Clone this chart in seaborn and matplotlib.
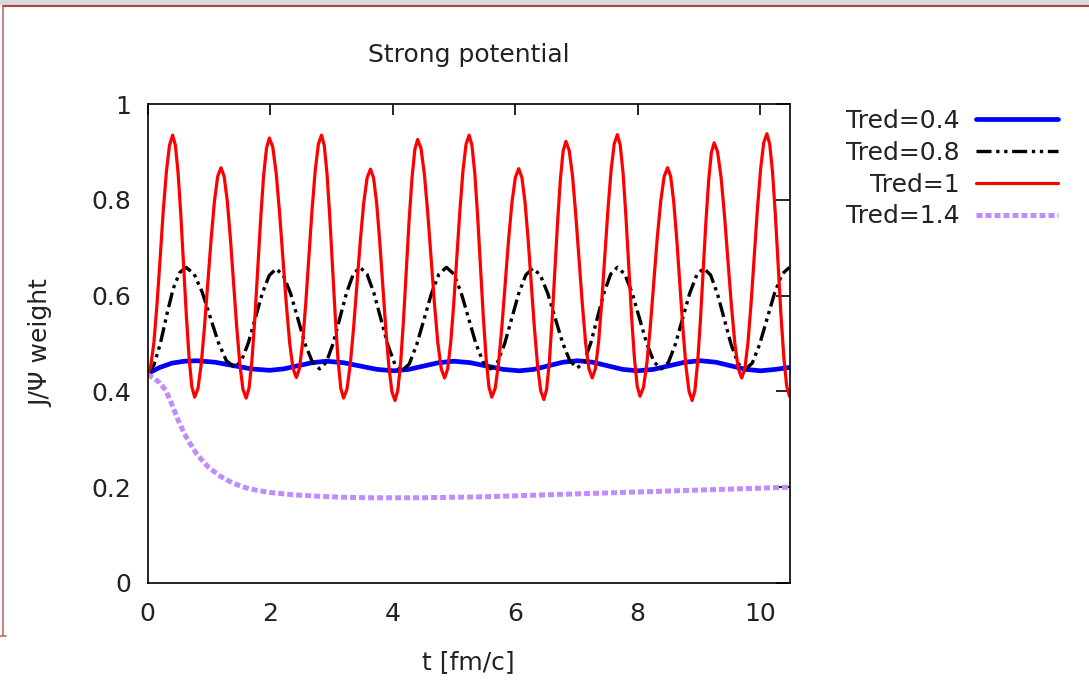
import numpy as np
import pandas as pd
import matplotlib
matplotlib.use("Agg")
import matplotlib.pyplot as plt
from matplotlib.lines import Line2D
from matplotlib.patches import Rectangle
import seaborn as sns

# ---------------- data ----------------
labels = ["Tred=0.4", "Tred=0.8", "Tred=1", "Tred=1.4"]

t_04 = [0, 0.2, 0.4, 0.6,
        0.80, 1.098, 1.395, 1.693,
        1.99, 2.223, 2.455, 2.688,
        2.92, 3.195, 3.47, 3.745,
        4.02, 4.265, 4.51, 4.755,
        5.0, 5.268, 5.535, 5.803,
        6.07, 6.308, 6.545, 6.783,
        7.02, 7.265, 7.51, 7.755,
        8.0, 8.258, 8.515, 8.773,
        9.03, 9.275, 9.52, 9.765,
        10.01, 10.25, 10.48]
w_04 = [0.437, 0.450, 0.459, 0.463,
        0.464, 0.461, 0.454, 0.447,
        0.444, 0.447, 0.4535, 0.460,
        0.463, 0.460, 0.453, 0.446,
        0.443, 0.446, 0.453, 0.460,
        0.463, 0.460, 0.453, 0.446,
        0.443, 0.446, 0.4535, 0.461,
        0.464, 0.461, 0.4535, 0.446,
        0.443, 0.446, 0.4535, 0.461,
        0.464, 0.461, 0.4535, 0.446,
        0.443, 0.446, 0.450]

t_08 = [0, 0.105, 0.21, 0.315, 0.42, 0.525,
        0.63, 0.762, 0.893, 1.025, 1.157, 1.288,
        1.42, 1.533, 1.647, 1.76, 1.873, 1.987,
        2.10, 2.218, 2.337, 2.455, 2.573, 2.692,
        2.81, 2.92, 3.03, 3.14, 3.25, 3.36,
        3.47, 3.583, 3.697, 3.81, 3.923, 4.037,
        4.15, 4.272, 4.393, 4.515, 4.637, 4.758,
        4.88, 5.00, 5.12, 5.24, 5.36, 5.48,
        5.60, 5.715, 5.83, 5.945, 6.06, 6.175,
        6.29, 6.412, 6.533, 6.655, 6.777, 6.898,
        7.02, 7.128, 7.237, 7.345, 7.453, 7.562,
        7.67, 7.79, 7.91, 8.03, 8.15, 8.27,
        8.39, 8.505, 8.62, 8.735, 8.85, 8.965,
        9.08, 9.192, 9.303, 9.415, 9.527, 9.638,
        9.75, 9.872, 9.993, 10.115, 10.237, 10.358, 10.48]
w_08 = [0.435, 0.455, 0.500, 0.560, 0.615, 0.648,
        0.659, 0.645, 0.607, 0.5545, 0.502, 0.464,
        0.450, 0.464, 0.5015, 0.553, 0.6045, 0.642,
        0.656, 0.642, 0.604, 0.5515, 0.499, 0.461,
        0.447, 0.461, 0.500, 0.553, 0.606, 0.645,
        0.659, 0.645, 0.605, 0.551, 0.497, 0.457,
        0.443, 0.457, 0.497, 0.551, 0.605, 0.645,
        0.659, 0.645, 0.606, 0.553, 0.500, 0.461,
        0.447, 0.461, 0.4995, 0.552, 0.6045, 0.643,
        0.657, 0.643, 0.605, 0.553, 0.501, 0.463,
        0.449, 0.463, 0.5015, 0.554, 0.6065, 0.645,
        0.659, 0.645, 0.606, 0.553, 0.500, 0.461,
        0.447, 0.461, 0.4995, 0.552, 0.6045, 0.643,
        0.657, 0.643, 0.604, 0.551, 0.498, 0.459,
        0.445, 0.459, 0.4985, 0.552, 0.6055, 0.645, 0.659]

t_1 = [0, 0.051, 0.103, 0.154, 0.205, 0.256, 0.308, 0.359,
       0.41, 0.455, 0.50, 0.545, 0.59, 0.635, 0.68, 0.725,
       0.77, 0.824, 0.878, 0.931, 0.985, 1.039, 1.093, 1.146,
       1.20, 1.251, 1.303, 1.354, 1.405, 1.456, 1.508, 1.559,
       1.61, 1.658, 1.705, 1.753, 1.80, 1.848, 1.895, 1.943,
       1.99, 2.045, 2.10, 2.155, 2.21, 2.265, 2.32, 2.375,
       2.43, 2.481, 2.533, 2.584, 2.635, 2.686, 2.738, 2.789,
       2.84, 2.885, 2.93, 2.975, 3.02, 3.065, 3.11, 3.155,
       3.20, 3.255, 3.31, 3.365, 3.42, 3.475, 3.53, 3.585,
       3.64, 3.69, 3.74, 3.79, 3.84, 3.89, 3.94, 3.99,
       4.04, 4.086, 4.133, 4.179, 4.225, 4.271, 4.318, 4.364,
       4.41, 4.465, 4.52, 4.575, 4.63, 4.685, 4.74, 4.795,
       4.85, 4.90, 4.95, 5.00, 5.05, 5.10, 5.15, 5.20,
       5.25, 5.296, 5.343, 5.389, 5.435, 5.481, 5.528, 5.574,
       5.62, 5.675, 5.73, 5.785, 5.84, 5.895, 5.95, 6.005,
       6.06, 6.111, 6.163, 6.214, 6.265, 6.316, 6.368, 6.419,
       6.47, 6.515, 6.56, 6.605, 6.65, 6.695, 6.74, 6.785,
       6.83, 6.884, 6.938, 6.991, 7.045, 7.099, 7.153, 7.206,
       7.26, 7.311, 7.363, 7.414, 7.465, 7.516, 7.568, 7.619,
       7.67, 7.716, 7.763, 7.809, 7.855, 7.901, 7.948, 7.994,
       8.04, 8.096, 8.153, 8.209, 8.265, 8.321, 8.378, 8.434,
       8.49, 8.54, 8.59, 8.64, 8.69, 8.74, 8.79, 8.84,
       8.89, 8.935, 8.98, 9.025, 9.07, 9.115, 9.16, 9.205,
       9.25, 9.306, 9.363, 9.419, 9.475, 9.531, 9.588, 9.644,
       9.70, 9.751, 9.803, 9.854, 9.905, 9.956, 10.008, 10.059,
       10.11, 10.156, 10.203, 10.249, 10.295, 10.341, 10.388, 10.434, 10.48]
w_1 = [0.435, 0.452, 0.500, 0.580, 0.675, 0.775, 0.858, 0.914,
       0.935, 0.914, 0.855, 0.766, 0.662, 0.557, 0.468, 0.409,
       0.388, 0.406, 0.458, 0.536, 0.628, 0.719, 0.797, 0.849,
       0.867, 0.849, 0.797, 0.718, 0.627, 0.535, 0.456, 0.404,
       0.386, 0.407, 0.465, 0.554, 0.658, 0.761, 0.850, 0.908,
       0.929, 0.910, 0.856, 0.774, 0.679, 0.584, 0.502, 0.448,
       0.429, 0.448, 0.503, 0.585, 0.682, 0.779, 0.861, 0.916,
       0.935, 0.914, 0.855, 0.765, 0.661, 0.556, 0.466, 0.407,
       0.386, 0.404, 0.456, 0.534, 0.625, 0.716, 0.794, 0.846,
       0.864, 0.846, 0.794, 0.715, 0.623, 0.530, 0.452, 0.399,
       0.381, 0.402, 0.461, 0.549, 0.654, 0.758, 0.846, 0.905,
       0.926, 0.907, 0.853, 0.772, 0.677, 0.582, 0.501, 0.447,
       0.428, 0.447, 0.502, 0.585, 0.682, 0.778, 0.861, 0.916,
       0.935, 0.914, 0.855, 0.766, 0.662, 0.557, 0.468, 0.409,
       0.388, 0.406, 0.458, 0.535, 0.627, 0.718, 0.795, 0.847,
       0.865, 0.847, 0.795, 0.716, 0.624, 0.532, 0.453, 0.401,
       0.383, 0.404, 0.462, 0.550, 0.653, 0.755, 0.843, 0.902,
       0.922, 0.903, 0.850, 0.769, 0.675, 0.581, 0.500, 0.447,
       0.428, 0.447, 0.502, 0.585, 0.682, 0.779, 0.862, 0.917,
       0.936, 0.915, 0.856, 0.767, 0.663, 0.559, 0.470, 0.411,
       0.390, 0.408, 0.460, 0.537, 0.629, 0.720, 0.797, 0.849,
       0.867, 0.849, 0.796, 0.717, 0.624, 0.531, 0.452, 0.400,
       0.381, 0.401, 0.460, 0.547, 0.650, 0.753, 0.840, 0.899,
       0.919, 0.900, 0.847, 0.767, 0.674, 0.580, 0.500, 0.447,
       0.428, 0.447, 0.503, 0.586, 0.683, 0.780, 0.864, 0.919,
       0.938, 0.917, 0.858, 0.769, 0.664, 0.559, 0.470, 0.411, 0.390]

t_14 = [0, 0.1, 0.2, 0.3, 0.4, 0.5, 0.6, 0.7, 0.8, 0.9, 1.0, 1.2, 1.4, 1.6,
        1.8, 2.0, 2.4, 2.8, 3.2, 3.6, 4.0, 4.5, 5.0, 5.5, 6.0, 6.5, 7.0,
        7.5, 8.0, 8.5, 9.0, 9.5, 10.0, 10.48]
w_14 = [0.435, 0.428, 0.418, 0.402, 0.372, 0.340, 0.312, 0.290, 0.270,
        0.255, 0.241, 0.222, 0.208, 0.199, 0.193, 0.189, 0.184, 0.181,
        0.179, 0.178, 0.178, 0.178, 0.179, 0.180, 0.182, 0.184, 0.186,
        0.188, 0.190, 0.192, 0.194, 0.196, 0.198, 0.200]

x_ticks = [0, 2, 4, 6, 8, 10]
y_ticks = [0, 0.2, 0.4, 0.6, 0.8, 1]
y_ticklabels = ["0", "0.2", "0.4", "0.6", "0.8", "1"]

# ---------------- figure ----------------
sns.set_theme(style="white")
plt.rcParams["font.family"] = ["DejaVu Sans"]
plt.rcParams["text.color"] = "#222222"

W, H = 1089, 682
fig = plt.figure(figsize=(W / 100, H / 100), dpi=100)
fig.patch.set_facecolor("white")
L, R, T, B = 147.5, 789.5, 104, 583
ax = fig.add_axes([L / W, 1 - B / H, (R - L) / W, (B - T) / H])
ax.set_facecolor("white")

series = [
    (t_04, w_04, dict(color="#0000ff", lw=3.4, ls="-")),
    (t_08, w_08, dict(color="#000000", lw=2.4, ls=(0, (4.5, 1.4, 1.0, 1.4, 1.0, 1.4)))),
    (t_1, w_1, dict(color="#ff0000", lw=2.3, ls="-")),
    (t_14, w_14, dict(color="#c08cff", lw=3.6, ls=(0, (1.2, 0.6)))),
]
handles = []
for (tt, ww, st), lab in zip(series, labels):
    df = pd.DataFrame({"t": tt, "w": ww})
    sns.lineplot(data=df, x="t", y="w", ax=ax, color=st["color"], linewidth=st["lw"],
                 linestyle=st["ls"], sort=False, estimator=None, legend=False)
    handles.append(Line2D([0], [0], color=st["color"], lw=st["lw"], ls=st["ls"]))

ax.set_xlim(0, 10.48)
ax.set_ylim(0, 1)
ax.set_xticks(x_ticks)
ax.set_xticklabels([str(v) for v in x_ticks])
ax.set_yticks(y_ticks)
ax.set_yticklabels(y_ticklabels)
ax.tick_params(axis="both", which="major", direction="in", top=True, right=True,
               colors="black", labelcolor="#222222", labelsize=18, width=1.2)
ax.tick_params(axis="x", length=8, pad=14)
ax.tick_params(axis="y", length=10, pad=12)
for s in ax.spines.values():
    s.set_color("black")
    s.set_linewidth(1.2)
    s.set_visible(True)

ax.set_xlabel("t [fm/c]", fontsize=18, labelpad=17, color="#222222")
ax.set_ylabel("J/Ψ weight", fontsize=18, color="#222222")
ax.yaxis.set_label_coords((53 - L) / (R - L), 0.5)
ax.set_title("Strong potential", fontsize=18, pad=30, color="#222222")

leg = ax.legend(handles, labels, loc="upper right",
                bbox_to_anchor=(1058 / W, 1 - 109 / H), bbox_transform=fig.transFigure,
                frameon=False, markerfirst=False, fontsize=18,
                handlelength=3.3, handletextpad=0.65, labelspacing=0.31, borderpad=0,
                borderaxespad=0)
for txt in leg.get_texts():
    txt.set_color("#222222")

# window frame of the screenshot
fig.patches.append(Rectangle((0, 1 - 5 / H), 1, 5 / H, transform=fig.transFigure,
                             facecolor="#d9d9d9", edgecolor="none", zorder=0))
fig.add_artist(Line2D([3 / W, 1], [1 - 5.5 / H, 1 - 5.5 / H], transform=fig.transFigure,
                      color="#a84545", lw=1.5))
fig.add_artist(Line2D([3 / W, 3 / W], [1 - 5.5 / H, 1 - 636 / H], transform=fig.transFigure,
                      color="#c06a6a", lw=1.2))
fig.add_artist(Line2D([0, 6 / W], [1 - 636 / H, 1 - 636 / H], transform=fig.transFigure,
                      color="#c06a6a", lw=1.2))

fig.savefig("out.png", dpi=100)
